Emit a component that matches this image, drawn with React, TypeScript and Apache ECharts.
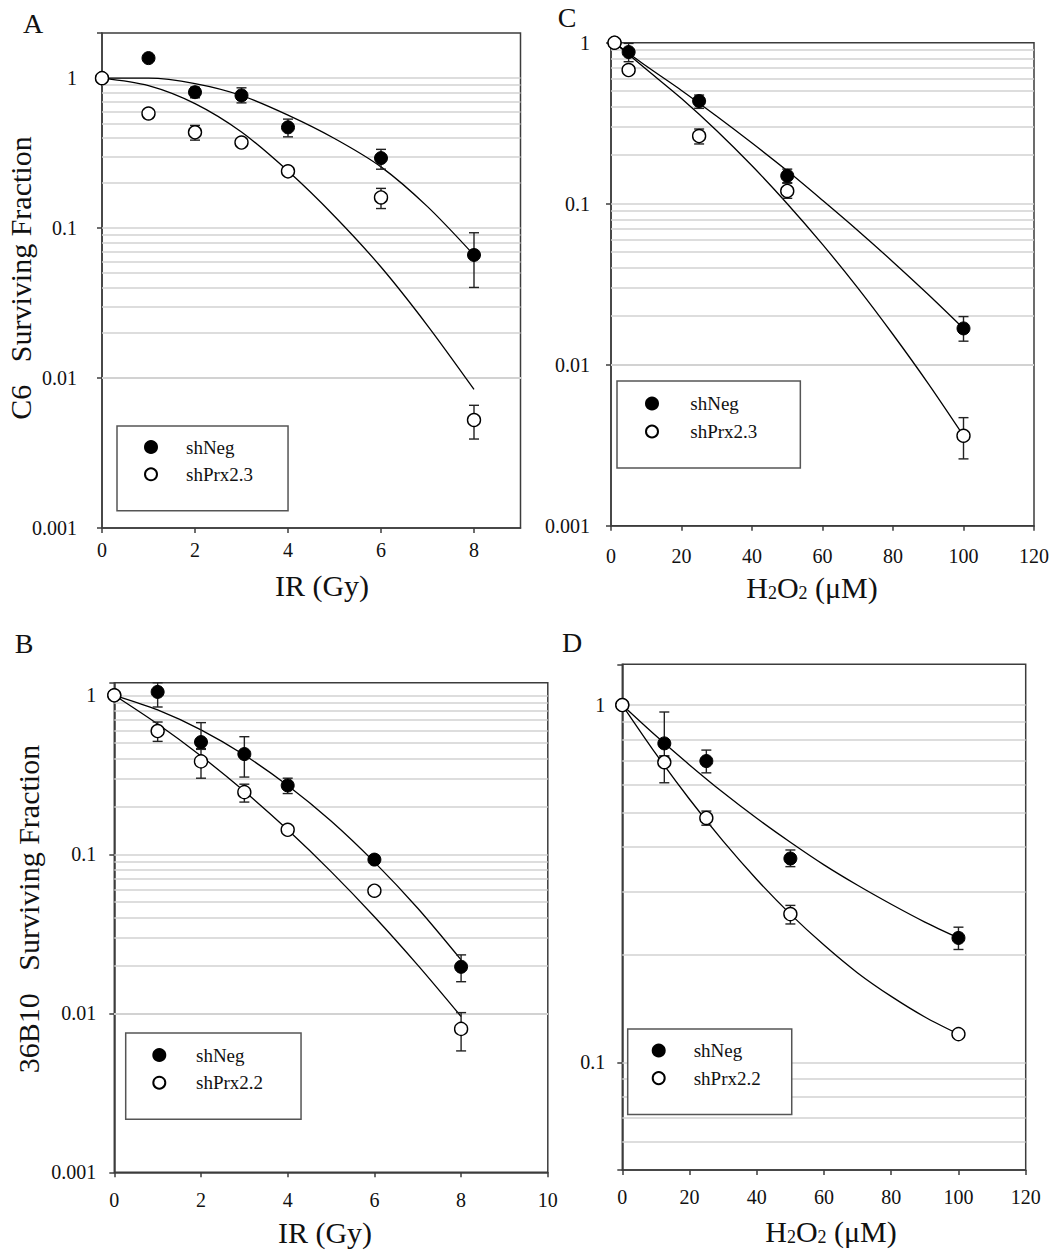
import React, { useEffect, useRef } from 'react';
import * as echarts from 'echarts';

const FONT = '"Liberation Serif", "Times New Roman", Times, serif';

// ---------- Panel A (C6, IR) ----------
const doseA = [0, 1, 2, 3, 4, 6, 8];
const negA = [1, 1.36, 0.806, 0.767, 0.47, 0.293, 0.0662];
const prxA = [1, 0.581, 0.435, 0.372, 0.239, 0.16, 0.00525];
const errNegA = [[2, 0.74, 0.87], [3, 0.684, 0.862], [4, 0.406, 0.533], [6, 0.247, 0.335], [8, 0.0402, 0.0931]];
const errPrxA = [[1, 0.539, 0.621], [2, 0.386, 0.484], [6, 0.135, 0.184], [8, 0.00392, 0.00658]];
const fitXA = [0, 1, 2, 3, 4, 5, 6, 7, 8];
const fitNegA = [1, 1.0, 0.92, 0.766, 0.567, 0.396, 0.256, 0.139, 0.066];
const fitPrxA = [1, 0.891, 0.676, 0.437, 0.24, 0.12, 0.055, 0.0224, 0.0084];

// ---------- Panel C (C6, H2O2) ----------
const doseC = [1, 5, 25, 50, 100];
const negC = [1, 0.875, 0.434, 0.149, 0.0168];
const prxC = [1, 0.676, 0.263, 0.12, 0.00362];
const errNegC = [[5, 0.762, 0.99], [25, 0.391, 0.473], [50, 0.135, 0.164], [100, 0.014, 0.0199]];
const errPrxC = [[25, 0.235, 0.291], [50, 0.108, 0.134], [100, 0.0026, 0.00469]];
const fitXC = [1, 10, 20, 30, 40, 50, 60, 70, 80, 90, 100];
const fitNegC = [1, 0.716, 0.505, 0.349, 0.238, 0.16, 0.105, 0.0682, 0.0435, 0.0273, 0.0168];
const fitPrxC = [1, 0.684, 0.45, 0.284, 0.172, 0.1, 0.0559, 0.03, 0.0154, 0.00763, 0.00362];

// ---------- Panel B (36B10, IR) ----------
const doseB = [0, 1, 2, 3, 4, 6, 8];
const negB = [1, 1.05, 0.508, 0.427, 0.271, 0.0926, 0.0196];
const prxB = [1, 0.596, 0.384, 0.246, 0.1425, 0.059, 0.00798];
const errNegB = [[1, 0.844, 1.2], [2, 0.462, 0.673], [3, 0.306, 0.549], [4, 0.241, 0.301], [8, 0.0158, 0.0233]];
const errPrxB = [[1, 0.513, 0.679], [2, 0.301, 0.457], [3, 0.213, 0.276], [8, 0.0058, 0.0101]];
const fitXB = [0, 1, 2, 3, 4, 5, 6, 7, 8];
const fitNegB = [1, 0.809, 0.606, 0.421, 0.271, 0.162, 0.0893, 0.0458, 0.0217];
const fitPrxB = [1, 0.659, 0.415, 0.249, 0.1426, 0.0778, 0.0405, 0.0201, 0.00955];

// ---------- Panel D (36B10, H2O2) ----------
const doseD = [0, 12.5, 25, 50, 100];
const negD = [1, 0.781, 0.697, 0.372, 0.223];
const prxD = [1, 0.692, 0.483, 0.26, 0.12];
const errNegD = [[12.5, 0.72, 0.956], [25, 0.646, 0.748], [50, 0.353, 0.393], [100, 0.207, 0.239]];
const errPrxD = [[12.5, 0.606, 0.72], [25, 0.461, 0.505], [50, 0.244, 0.275]];
const fitXD = [0, 10, 20, 30, 40, 50, 60, 70, 80, 90, 100];
const fitNegD = [1, 0.82, 0.68, 0.569, 0.482, 0.413, 0.357, 0.313, 0.277, 0.247, 0.223];
const fitPrxD = [1, 0.73, 0.545, 0.416, 0.325, 0.26, 0.213, 0.178, 0.153, 0.134, 0.12];

const gridLineValues = (min: number, max: number) => {
  const out: number[] = [];
  for (let e = -4; e <= 1; e++) {
    for (let m = 1; m <= 9; m++) {
      const v = Number((m * Math.pow(10, e)).toPrecision(3));
      if (v > min * 1.0001 && v < max * 0.9999) out.push(v);
    }
  }
  return out;
};

const decadeLabel = (v: number) => {
  const l = Math.log10(v);
  if (Math.abs(l - Math.round(l)) < 1e-6) return String(Number(v.toPrecision(1)));
  return '';
};

type PanelCfg = {
  idx: number;
  grid: { left: number; top: number; width: number; height: number };
  xMin: number; xMax: number; xInterval: number; xLabels?: number[];
  yMin: number; yMax: number;
  yMargin: number; xMargin: number;
  doses: number[]; neg: number[]; prx: number[];
  errNeg: number[][]; errPrx: number[][];
  fitX: number[]; fitNeg: number[]; fitPrx: number[];
  prxName: string;
  legend: { left: number; top: number; padding: number[]; itemGap: number; itemWidth: number };
};

const AXIS_COLOR = '#3c3c3c';

function buildPanel(c: PanelCfg) {
  const i = c.idx;
  const grid = { ...c.grid, show: true, borderColor: AXIS_COLOR, borderWidth: 1.5, backgroundColor: 'transparent', outerBoundsMode: 'none', containLabel: false };
  const labelStyle = { fontFamily: FONT, fontSize: 20, color: '#111' };
  const xAxis: any = {
    type: 'value', gridIndex: i, min: c.xMin, max: c.xMax, interval: c.xInterval,
    axisLine: { show: true, lineStyle: { color: AXIS_COLOR, width: 1.5 } },
    axisTick: { show: true, length: 5, inside: false, lineStyle: { color: AXIS_COLOR, width: 1.5 } },
    axisLabel: { ...labelStyle, margin: c.xMargin, showMaxLabel: true, showMinLabel: true },
    splitLine: { show: false },
  };
  if (c.xLabels) {
    xAxis.axisLabel.customValues = c.xLabels;
    xAxis.axisTick.customValues = c.xLabels;
  }
  const yAxis: any = {
    type: 'log', logBase: 10, gridIndex: i, min: c.yMin, max: c.yMax,
    axisLine: { show: true, lineStyle: { color: AXIS_COLOR, width: 1.5 } },
    axisTick: { show: true, length: 5, inside: false, lineStyle: { color: AXIS_COLOR, width: 1.5 } },
    axisLabel: { ...labelStyle, margin: c.yMargin, formatter: (v: number) => decadeLabel(v), showMinLabel: true, showMaxLabel: true },
    splitLine: { show: false },
    minorTick: { show: false },
  };

  const errRender = (params: any, api: any) => {
    const x = api.value(0);
    const lo = api.coord([x, api.value(1)]);
    const hi = api.coord([x, api.value(2)]);
    const w = 5;
    const st = { stroke: '#222', lineWidth: 1.4 };
    return {
      type: 'group',
      children: [
        { type: 'line', shape: { x1: lo[0], y1: lo[1], x2: hi[0], y2: hi[1] }, style: st },
        { type: 'line', shape: { x1: lo[0] - w, y1: lo[1], x2: lo[0] + w, y2: lo[1] }, style: st },
        { type: 'line', shape: { x1: hi[0] - w, y1: hi[1], x2: hi[0] + w, y2: hi[1] }, style: st },
      ],
    };
  };

  const common = { xAxisIndex: i, yAxisIndex: i };
  const series: any[] = [
    {
      ...common, type: 'line', name: 'grid' + i, data: [[c.xMin, c.yMax]], showSymbol: false, symbol: 'none',
      lineStyle: { opacity: 0 }, silent: true, z: 1,
      markLine: {
        silent: true, symbol: ['none', 'none'], label: { show: false }, z: 1,
        lineStyle: { color: '#d2d2d2', width: 1.5, type: 'solid' },
        emphasis: { disabled: true },
        data: gridLineValues(c.yMin, c.yMax).map((v) => ({ yAxis: v })),
      },
    },
    {
      ...common, type: 'line', name: 'fitNeg' + i, smooth: 0.3, showSymbol: false, symbol: 'none', z: 2,
      lineStyle: { color: '#000', width: 1.3 }, silent: true,
      data: c.fitX.map((x, k) => [x, c.fitNeg[k]]),
    },
    {
      ...common, type: 'line', name: 'fitPrx' + i, smooth: 0.3, showSymbol: false, symbol: 'none', z: 2,
      lineStyle: { color: '#000', width: 1.3 }, silent: true,
      data: c.fitX.map((x, k) => [x, c.fitPrx[k]]),
    },
    {
      ...common, type: 'custom', name: 'errNeg' + i, renderItem: errRender, z: 3, silent: true,
      encode: { x: 0, y: [1, 2] }, data: c.errNeg,
    },
    {
      ...common, type: 'custom', name: 'errPrx' + i, renderItem: errRender, z: 3, silent: true,
      encode: { x: 0, y: [1, 2] }, data: c.errPrx,
    },
    {
      ...common, type: 'scatter', name: 'shNeg', symbol: 'circle', symbolSize: 13, z: 4,
      itemStyle: { color: '#000', borderColor: '#000', borderWidth: 1, opacity: 1 },
      emphasis: { disabled: true },
      data: c.doses.map((x, k) => [x, c.neg[k]]),
    },
    {
      ...common, type: 'scatter', name: c.prxName, symbol: 'circle', symbolSize: 13, z: 5,
      itemStyle: { color: '#fff', borderColor: '#000', borderWidth: 1.4, opacity: 1 },
      emphasis: { disabled: true },
      data: c.doses.map((x, k) => [x, c.prx[k]]),
    },
  ];

  const legend = {
    show: true, orient: 'vertical', left: c.legend.left, top: c.legend.top,
    padding: c.legend.padding, itemGap: c.legend.itemGap, itemWidth: c.legend.itemWidth, itemHeight: 12,
    borderColor: '#555', borderWidth: 1.5, backgroundColor: '#fff',
    selectedMode: false,
    itemStyle: { opacity: 1 },
    textStyle: { fontFamily: FONT, fontSize: 19, color: '#111' },
    data: [{ name: 'shNeg', icon: 'circle' }, { name: c.prxName, icon: 'circle' }],
  };
  return { grid, xAxis, yAxis, series, legend };
}

const panels: PanelCfg[] = [
  {
    idx: 0, grid: { left: 102, top: 33, width: 418.5, height: 495 },
    xMin: 0, xMax: 9, xInterval: 2, xLabels: [0, 2, 4, 6, 8], yMin: 0.001, yMax: 2, yMargin: 25, xMargin: 12,
    doses: doseA, neg: negA, prx: prxA, errNeg: errNegA, errPrx: errPrxA,
    fitX: fitXA, fitNeg: fitNegA, fitPrx: fitPrxA, prxName: 'shPrx2.3',
    legend: { left: 117, top: 426, padding: [11.5, 35, 27, 27], itemGap: 8.3, itemWidth: 60 },
  },
  {
    idx: 1, grid: { left: 611, top: 42.7, width: 423, height: 483 },
    xMin: 0, xMax: 120, xInterval: 20, yMin: 0.001, yMax: 1, yMargin: 21, xMargin: 20,
    doses: doseC, neg: negC, prx: prxC, errNeg: errNegC, errPrx: errPrxC,
    fitX: fitXC, fitNeg: fitNegC, fitPrx: fitPrxC, prxName: 'shPrx2.3',
    legend: { left: 617, top: 381, padding: [13, 43, 27, 28], itemGap: 9, itemWidth: 66.6 },
  },
  {
    idx: 2, grid: { left: 114.3, top: 682.7, width: 433.5, height: 489.6 },
    xMin: 0, xMax: 10, xInterval: 2, yMin: 0.001, yMax: 1.2, yMargin: 18, xMargin: 18,
    doses: doseB, neg: negB, prx: prxB, errNeg: errNegB, errPrx: errPrxB,
    fitX: fitXB, fitNeg: fitNegB, fitPrx: fitPrxB, prxName: 'shPrx2.2',
    legend: { left: 125.7, top: 1033, padding: [12.5, 38, 27, 26.6], itemGap: 8.7, itemWidth: 63.4 },
  },
  {
    idx: 3, grid: { left: 622.3, top: 664.3, width: 403.4, height: 505.7 },
    xMin: 0, xMax: 120, xInterval: 20, yMin: 0.05, yMax: 1.3, yMargin: 17, xMargin: 17,
    doses: doseD, neg: negD, prx: prxD, errNeg: errNegD, errPrx: errPrxD,
    fitX: fitXD, fitNeg: fitNegD, fitPrx: fitPrxD, prxName: 'shPrx2.2',
    legend: { left: 627.7, top: 1029, padding: [12, 31, 27, 24], itemGap: 8.6, itemWidth: 60 },
  },
];

const h2o2Rich = {
  n: { fontFamily: FONT, fontSize: 30, fill: '#111', color: '#111' },
  s: { fontFamily: FONT, fontSize: 18, fill: '#111', color: '#111', verticalAlign: 'bottom', padding: [10, 0, 0, 0] },
};

function textEl(x: number, y: number, text: string, size: number, rotation = 0, rich?: any) {
  return {
    type: 'text', x, y, rotation, silent: true,
    style: {
      text, fontFamily: FONT, fontSize: size, fill: '#111',
      align: 'center', verticalAlign: 'middle', rich,
    },
  };
}

export default function App() {
  const ref = useRef<HTMLDivElement>(null);
  useEffect(() => {
    if (!ref.current) return;
    const chart = echarts.init(ref.current, null, { renderer: 'svg' });
    const built = panels.map(buildPanel);
    const option: any = {
      animation: false,
      backgroundColor: '#fff',
      grid: built.map((b) => b.grid),
      xAxis: built.map((b) => b.xAxis),
      yAxis: built.map((b) => b.yAxis),
      legend: built.map((b) => b.legend),
      series: built.flatMap((b) => b.series),
      graphic: [
        textEl(33, 23, 'A', 28),
        textEl(567, 17, 'C', 28),
        textEl(24, 643, 'B', 28),
        textEl(572, 642, 'D', 28),
        textEl(20, 278, 'C6\u00a0\u00a0\u00a0Surviving Fraction', 30, Math.PI / 2),
        textEl(28, 909, '36B10\u00a0\u00a0\u00a0Surviving Fraction', 30, Math.PI / 2),
        textEl(322, 585, 'IR (Gy)', 30),
        textEl(325, 1232, 'IR (Gy)', 30),
        textEl(812, 587, '{n|H}{s|2}{n|O}{s|2}{n| (μM)}', 30, 0, h2o2Rich),
        textEl(831, 1231, '{n|H}{s|2}{n|O}{s|2}{n| (μM)}', 30, 0, h2o2Rich),
      ],
    };
    chart.setOption(option);
    return () => chart.dispose();
  }, []);
  return (
    <div
      ref={ref}
      style={{ position: 'absolute', left: 0, top: 0, width: 1050, height: 1250, background: '#fff' }}
    />
  );
}
